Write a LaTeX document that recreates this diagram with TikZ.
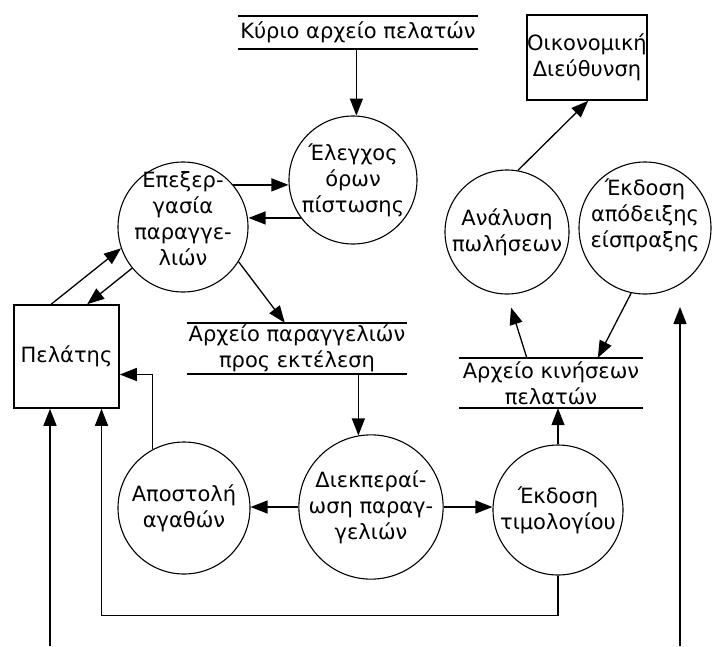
\documentclass[tikz,border=0pt]{standalone}
\usepackage{fontspec}
\setmainfont{DejaVu Sans}
\usetikzlibrary{arrows.meta,calc}
\begin{document}
\begin{tikzpicture}[x=1pt,y=-1pt,
  txt/.style={font=\fontsize{21}{26}\selectfont, align=center},
  proc/.style={txt,circle,draw,line width=1.1pt,minimum size=#1,inner sep=0pt},
  ext/.style={txt,rectangle,draw,line width=1.6pt,inner sep=0pt},
  store/.style={txt,inner sep=0pt},
  stl/.style={line width=1.5pt},
  arr/.style={line width=1.3pt,-{Triangle[length=17pt,width=13pt]}},
  ln/.style={line width=1.3pt}
]
\useasboundingbox (0,0) rectangle (715,646);

% external entities
\node[ext,minimum width=105pt,minimum height=103pt] (cust) at (66.5,356.5) {Πελάτης};
\node[ext,minimum width=120pt,minimum height=85pt] (oik) at (587,57.5) {Οικονομική\\Διεύθυνση};

% processes
\node[proc=130pt,label={[txt,yshift=8pt]center:{Επεξερ-\\γασία\\παραγγε-\\λιών}}] (epex) at (183,227) {};
\node[proc=128pt] (eleg) at (353,180) {Έλεγχος\\όρων\\πίστωσης};
\node[proc=124pt] (anal) at (507,232) {Ανάλυση\\πωλήσεων};
\node[proc=132pt,label={[txt,yshift=13pt]center:{Έκδοση\\απόδειξης\\είσπραξης}}] (apod) at (645,228) {};
\node[proc=130pt] (diek) at (371,507) {Διεκπεραί-\\ωση παραγ-\\γελιών};
\node[proc=132pt] (apost) at (184,508) {Αποστολή\\αγαθών};
\node[proc=130pt] (tim) at (558,510) {Έκδοση\\τιμολογίου};

% data stores
\node[store,minimum width=240pt,minimum height=33pt] (kyrio) at (358,32.5) {Κύριο αρχείο πελατών};
\node[store,minimum width=220pt,minimum height=51pt] (orders) at (297,348.5) {Αρχείο παραγγελιών\\προς εκτέλεση};
\node[store,minimum width=184pt,minimum height=50pt] (kin) at (551,383) {Αρχείο κινήσεων\\πελατών};
\foreach \s in {kyrio,orders,kin}{
  \draw[stl] (\s.north west) -- (\s.north east);
  \draw[stl] (\s.south west) -- (\s.south east);
}

% free ends
\coordinate (inC) at (50,646);
\coordinate (inR) at (680,646);
\coordinate (inRtip) at (680,307);

% connectors
\draw[arr] (kyrio.south -| eleg.87) -- (eleg.87);
\draw[arr] (epex.40) -- (epex.40 -| eleg.west);
\draw[arr] (eleg.216) -- (eleg.216 -| epex.east);
\draw[arr] ([xshift=38pt]cust.north west) -- (epex.199);
\draw[arr] (epex.219) -- ([xshift=74pt]cust.north west);
\draw[arr] (epex.-32) -- ([xshift=98pt]orders.north west);
\draw[arr] (orders.south -| diek.100) -- (diek.100);
\draw[arr] (diek.west) -- (diek.west -| apost.east);
\draw[arr] (diek.east) -- (diek.east -| tim.west);
\draw[arr] (apost.118) |- ([yshift=-18pt]cust.east);
\draw[arr] (tim.north) -- (tim.north |- kin.south);
\draw[arr] (tim.south) -- ++(0,40) -| ([xshift=35pt]cust.south);
\draw[arr] (inC) -- (inC |- cust.south);
\draw[arr] (inR) -- (inRtip);
\draw[arr] ([xshift=68pt]kin.north west) -- ($(anal.south)+(4,13)$);
\draw[arr] (apod.258) -- ([xshift=139pt]kin.north west);
\draw[arr] (anal.80) -- ([xshift=62pt]oik.south west);
\end{tikzpicture}
\end{document}
